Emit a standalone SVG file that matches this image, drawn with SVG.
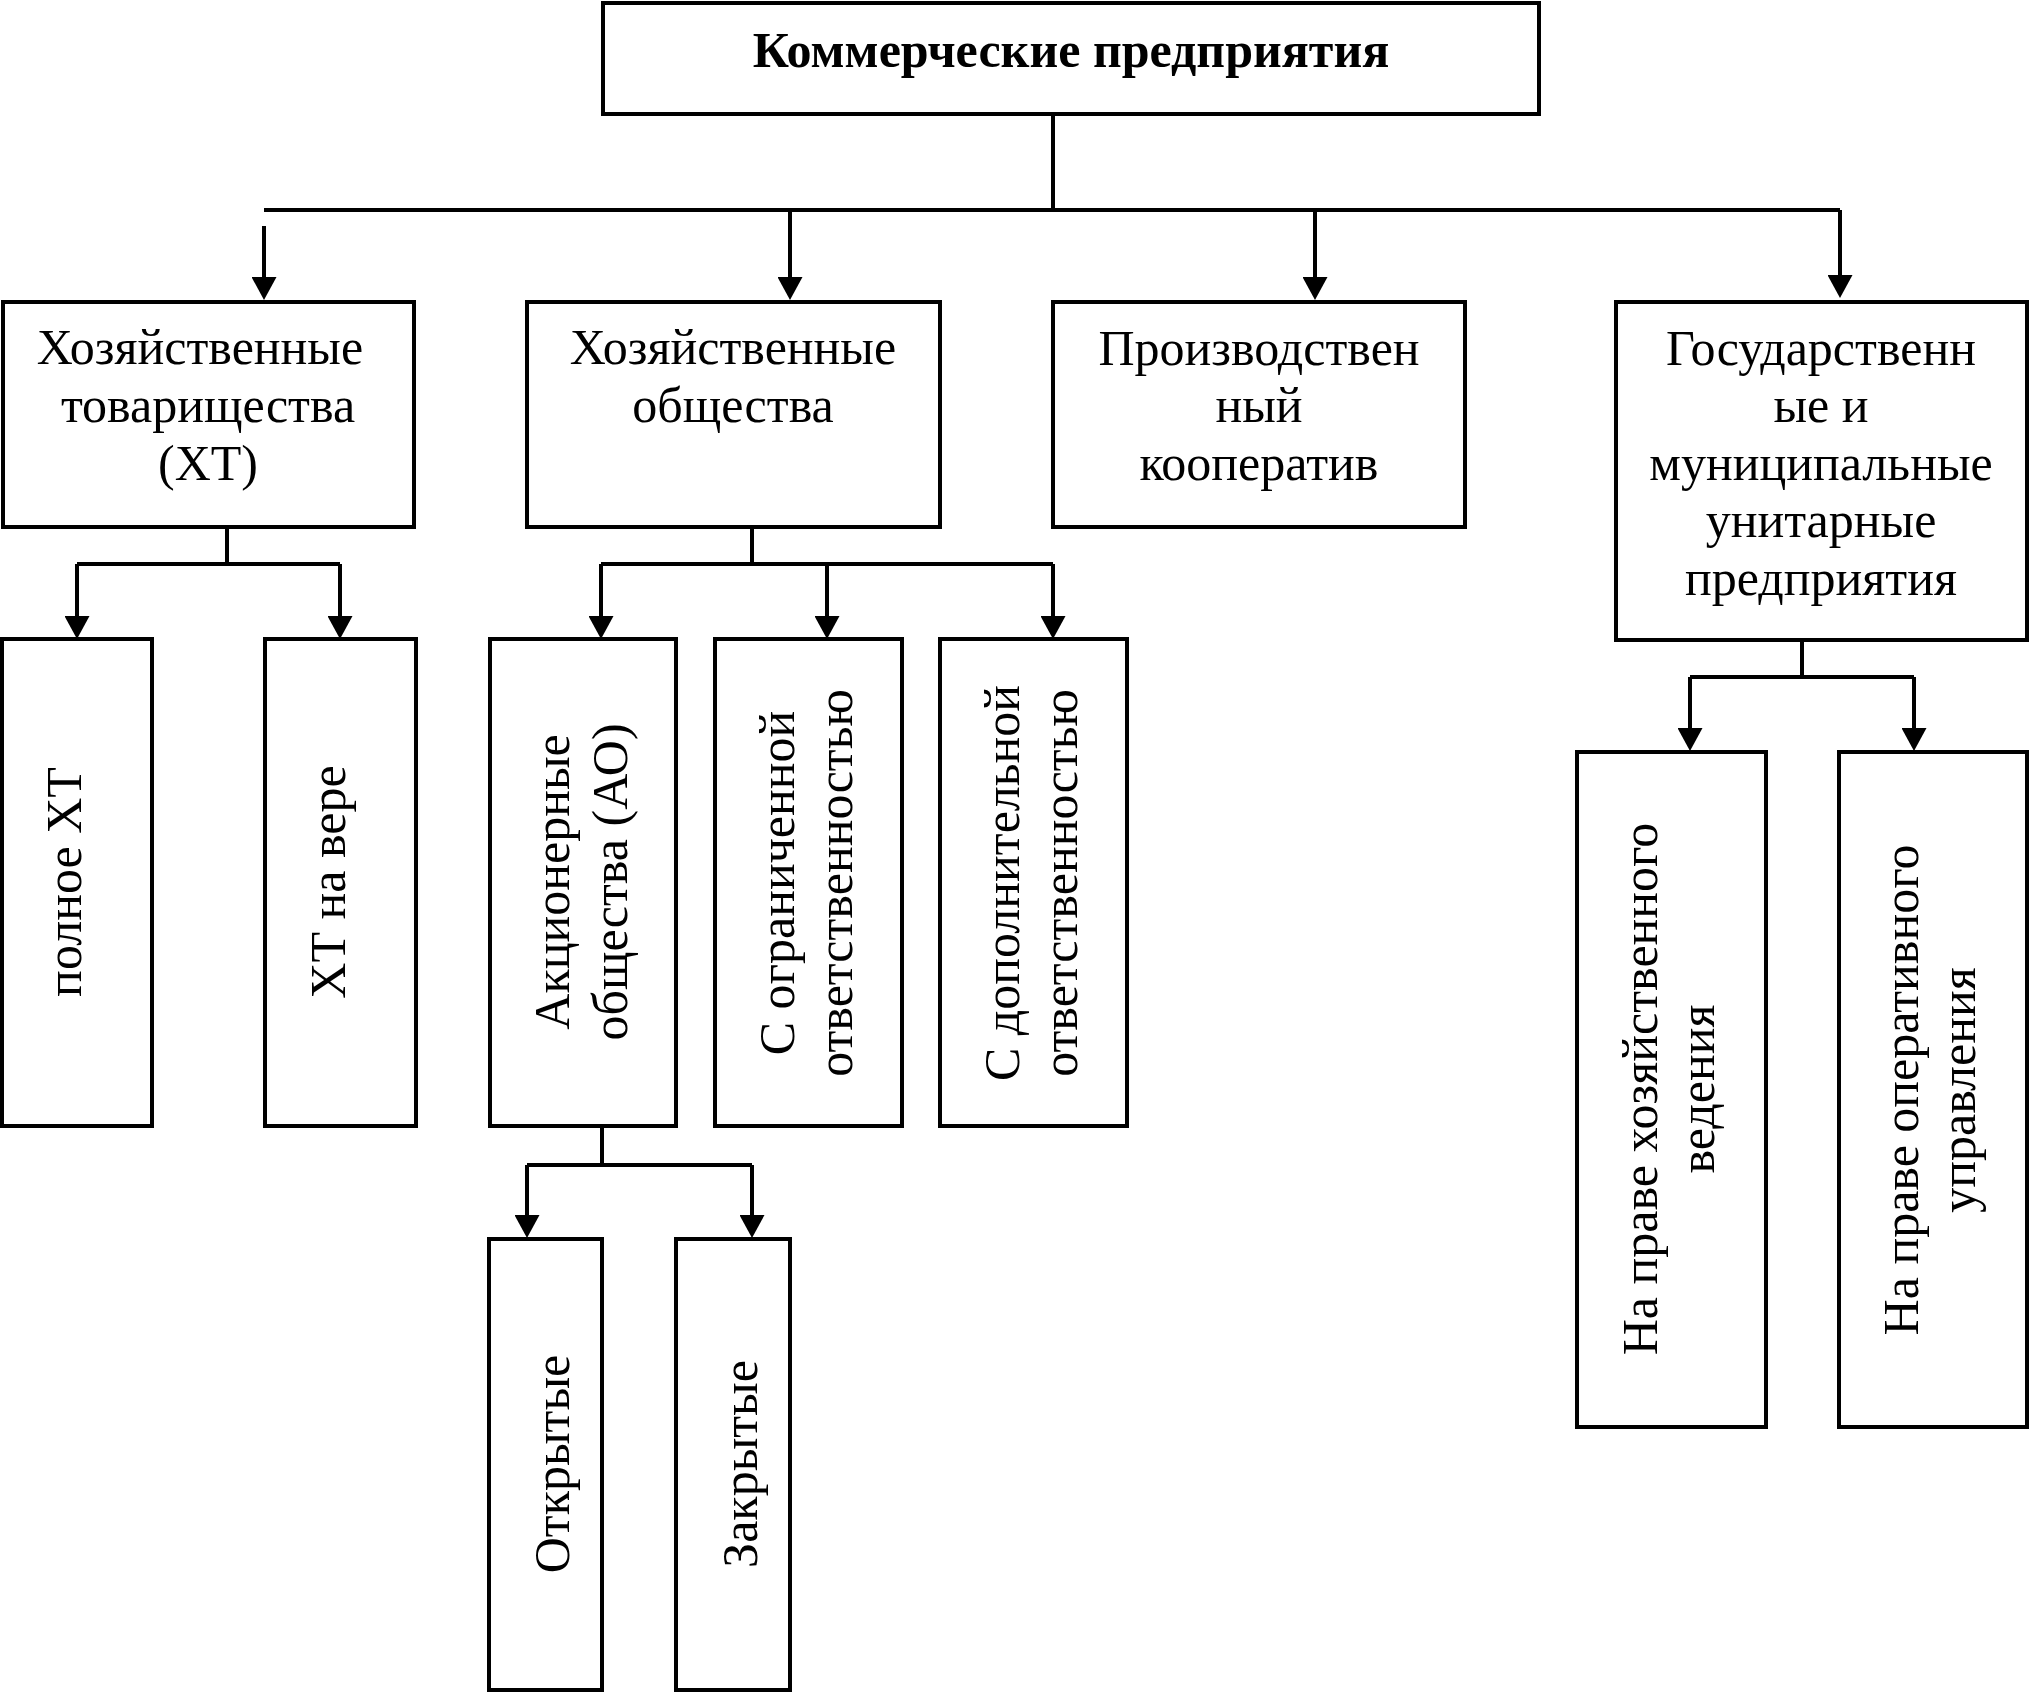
<svg xmlns="http://www.w3.org/2000/svg" width="2029" height="1692" viewBox="0 0 2029 1692">
<style>
.box{fill:#fff;stroke:#000;stroke-width:4}
.ln{fill:none;stroke:#000;stroke-width:4}
.t{font-family:"Liberation Serif","Times New Roman",serif;font-size:50px;fill:#000;text-anchor:middle}
.b{font-weight:bold}
</style>
<defs>
<marker id="ah" markerUnits="userSpaceOnUse" markerWidth="25" markerHeight="25" viewBox="0 0 23 25" refX="13" refY="12.5" orient="auto">
<path d="M0,0 L23,12.5 L0,25 Z" fill="#000"/>
</marker>
</defs>
<rect width="2029" height="1692" fill="#fff"/>
<g id="connectors">
<path class="ln" d="M1053,114 V210 M264,210 H1840"/>
<path class="ln" d="M264,226 V290" marker-end="url(#ah)"/>
<path class="ln" d="M790,210 V290" marker-end="url(#ah)"/>
<path class="ln" d="M1315,210 V290" marker-end="url(#ah)"/>
<path class="ln" d="M1840,210 V288" marker-end="url(#ah)"/>
<path class="ln" d="M227,527 V564 M77,564 H340"/>
<path class="ln" d="M77,564 V629" marker-end="url(#ah)"/>
<path class="ln" d="M340,564 V629" marker-end="url(#ah)"/>
<path class="ln" d="M752,527 V564 M601,564 H1053"/>
<path class="ln" d="M601,564 V629" marker-end="url(#ah)"/>
<path class="ln" d="M827,564 V629" marker-end="url(#ah)"/>
<path class="ln" d="M1053,564 V629" marker-end="url(#ah)"/>
<path class="ln" d="M602,1126 V1165 M527,1165 H752"/>
<path class="ln" d="M527,1165 V1228" marker-end="url(#ah)"/>
<path class="ln" d="M752,1165 V1228" marker-end="url(#ah)"/>
<path class="ln" d="M1802,640 V677 M1690,677 H1914"/>
<path class="ln" d="M1690,677 V741" marker-end="url(#ah)"/>
<path class="ln" d="M1914,677 V741" marker-end="url(#ah)"/>
</g>
<g id="n-root">
<rect class="box" x="603" y="3" width="936" height="111"/>
<text class="t b" x="1071" y="67">Коммерческие предприятия</text>
</g>
<g id="n-xt">
<rect class="box" x="3" y="302" width="411" height="225"/>
<text class="t" x="200" y="364">Хозяйственные</text>
<text class="t" x="208" y="422">товарищества</text>
<text class="t" x="208" y="480">(ХТ)</text>
</g>
<g id="n-xo">
<rect class="box" x="527" y="302" width="413" height="225"/>
<text class="t" x="733" y="364">Хозяйственные</text>
<text class="t" x="733" y="422">общества</text>
</g>
<g id="n-pk">
<rect class="box" x="1053" y="302" width="412" height="225"/>
<text class="t" x="1259" y="365">Производствен</text>
<text class="t" x="1259" y="422">ный</text>
<text class="t" x="1259" y="480">кооператив</text>
</g>
<g id="n-gmup">
<rect class="box" x="1616" y="302" width="411" height="338"/>
<text class="t" x="1821" y="365">Государственн</text>
<text class="t" x="1821" y="422">ые и</text>
<text class="t" x="1821" y="480">муниципальные</text>
<text class="t" x="1821" y="537">унитарные</text>
<text class="t" x="1821" y="595">предприятия</text>
</g>
<g id="n-full">
<rect class="box" x="2" y="639" width="150" height="487"/>
<text class="t" transform="translate(81,882) rotate(-90)">полное ХТ</text>
</g>
<g id="n-vera">
<rect class="box" x="265" y="639" width="151" height="487"/>
<text class="t" transform="translate(345,882) rotate(-90)">ХТ на вере</text>
</g>
<g id="n-ao">
<rect class="box" x="490" y="639" width="186" height="487"/>
<text class="t" transform="translate(569,882) rotate(-90)"><tspan x="0" y="0">Акционерные</tspan><tspan x="0" y="58">общества (АО)</tspan></text>
</g>
<g id="n-ooo">
<rect class="box" x="715" y="639" width="187" height="487"/>
<text class="t" transform="translate(794,883) rotate(-90)"><tspan x="0" y="0">С ограниченной</tspan><tspan x="0" y="58">ответственностью</tspan></text>
</g>
<g id="n-odo">
<rect class="box" x="940" y="639" width="187" height="487"/>
<text class="t" transform="translate(1019,883) rotate(-90)"><tspan x="0" y="0">С дополнительной</tspan><tspan x="0" y="58">ответственностью</tspan></text>
</g>
<g id="n-open">
<rect class="box" x="489" y="1239" width="113" height="451"/>
<text class="t" transform="translate(569,1464) rotate(-90)">Открытые</text>
</g>
<g id="n-closed">
<rect class="box" x="676" y="1239" width="114" height="451"/>
<text class="t" transform="translate(757,1464) rotate(-90)">Закрытые</text>
</g>
<g id="n-hv">
<rect class="box" x="1577" y="752" width="189" height="675"/>
<text class="t" transform="translate(1657,1089) rotate(-90)"><tspan x="0" y="0">На праве хозяйственного</tspan><tspan x="0" y="57">ведения</tspan></text>
</g>
<g id="n-ou">
<rect class="box" x="1839" y="752" width="188" height="675"/>
<text class="t" transform="translate(1918,1090) rotate(-90)"><tspan x="0" y="0">На праве оперативного</tspan><tspan x="0" y="57">управления</tspan></text>
</g>
</svg>
